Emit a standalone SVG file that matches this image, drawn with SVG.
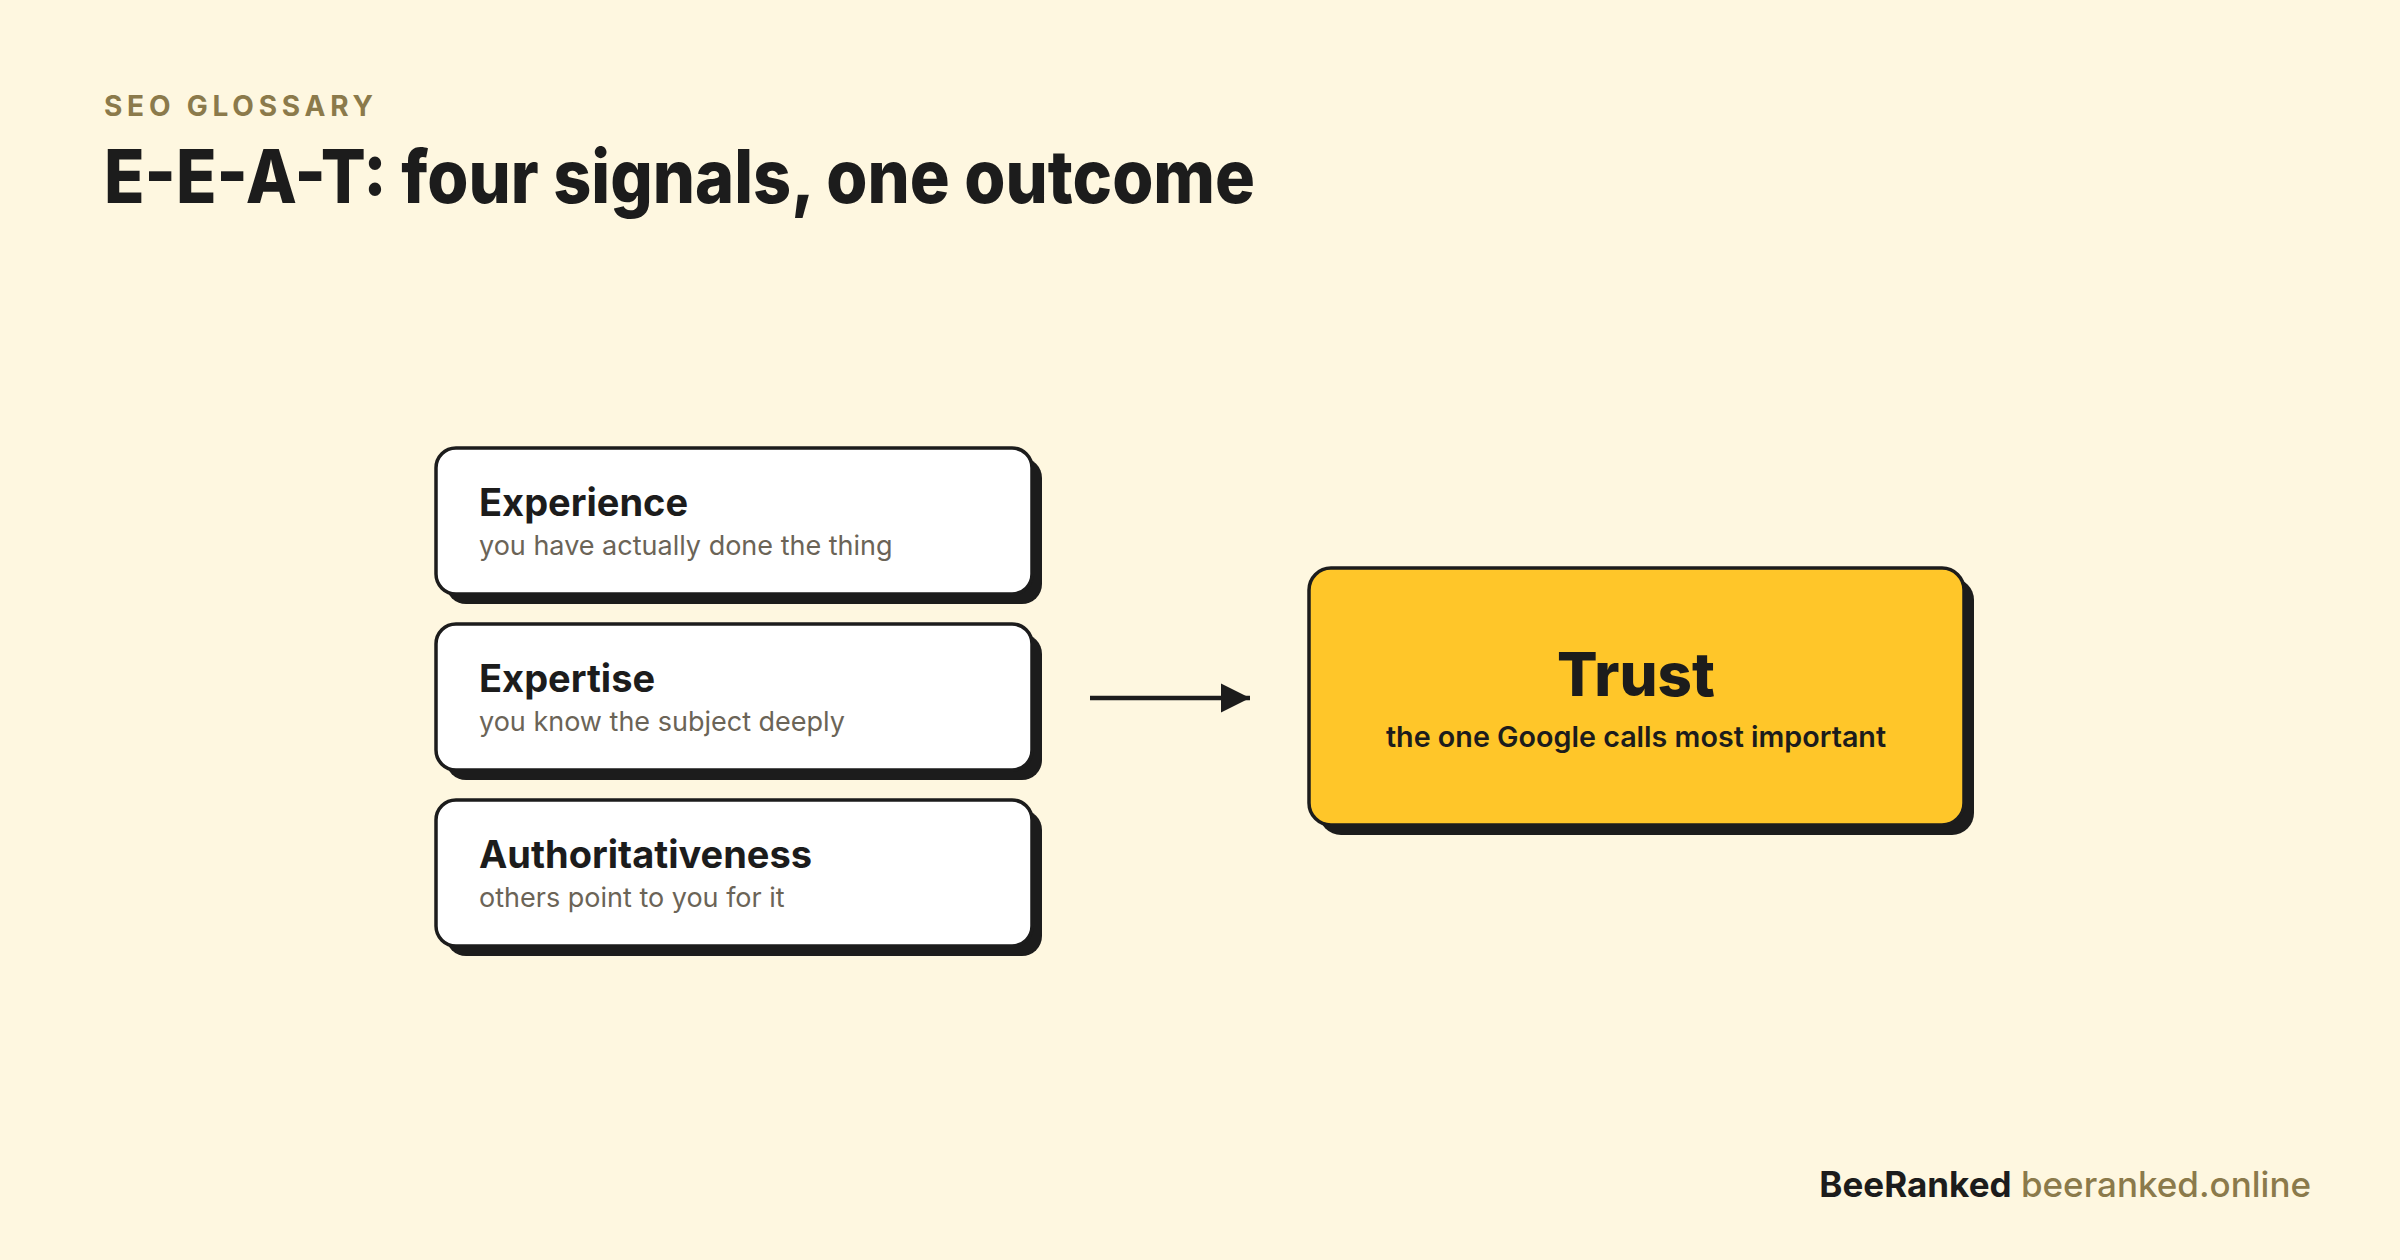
<svg xmlns="http://www.w3.org/2000/svg" width="2400" height="1260" viewBox="0 0 2400 1260">
<defs>
<marker id="ah" viewBox="0 0 10 10" refX="10" refY="5" markerWidth="6.5" markerHeight="6.5" markerUnits="strokeWidth" orient="auto">
<path d="M0,0 L10,5 L0,10 Z" fill="#1c1c1c"/>
</marker>
<style>
.bg{fill:#FEF7E0}
.shadow{fill:#1c1c1c}
.card{fill:#ffffff;stroke:#1c1c1c;stroke-width:3.5}
.trust{fill:#FFC629;stroke:#1c1c1c;stroke-width:3.5}
.kick{font-family:Inter,"Liberation Sans",sans-serif;font-weight:700;font-size:28px;letter-spacing:4px;fill:#8B7A4B}
.title{font-family:Inter,"Liberation Sans",sans-serif;font-weight:800;font-size:74px;fill:#1c1c1c}
.h{font-family:Inter,"Liberation Sans",sans-serif;font-weight:700;font-size:38px;fill:#1c1c1c}
.s{font-family:Inter,"Liberation Sans",sans-serif;font-weight:400;font-size:27px;fill:#6b6457}
.th{font-family:Inter,"Liberation Sans",sans-serif;font-weight:800;font-size:60px;fill:#1c1c1c}
.ts{font-family:Inter,"Liberation Sans",sans-serif;font-weight:600;font-size:28.7px;fill:#1c1c1c}
.f1{font-family:Inter,"Liberation Sans",sans-serif;font-weight:700;font-size:35px;fill:#1c1c1c}
.f2{font-family:Inter,"Liberation Sans",sans-serif;font-weight:500;font-size:35px;fill:#8B7A4B}
.conn{stroke:#1c1c1c;stroke-width:4.5;fill:none}
</style>
</defs>
<rect class="bg" x="0" y="0" width="2400" height="1260"/>
<text class="kick" x="104" y="116" textLength="273">SEO GLOSSARY</text>
<text class="title" x="104" y="203" textLength="1151" lengthAdjust="spacingAndGlyphs">E-E-A-T: four signals, one outcome</text>

<g id="experience">
<rect class="shadow" x="446" y="458" width="596" height="146" rx="20"/>
<rect class="card" x="436" y="448" width="596" height="146" rx="20"/>
<text class="h" x="479" y="516">Experience</text>
<text class="s" x="479" y="555">you have actually done the thing</text>
</g>
<g id="expertise">
<rect class="shadow" x="446" y="634" width="596" height="146" rx="20"/>
<rect class="card" x="436" y="624" width="596" height="146" rx="20"/>
<text class="h" x="479" y="692">Expertise</text>
<text class="s" x="479" y="731">you know the subject deeply</text>
</g>
<g id="authoritativeness">
<rect class="shadow" x="446" y="810" width="596" height="146" rx="20"/>
<rect class="card" x="436" y="800" width="596" height="146" rx="20"/>
<text class="h" x="479" y="868">Authoritativeness</text>
<text class="s" x="479" y="907">others point to you for it</text>
</g>
<g id="trust">
<rect class="shadow" x="1319" y="578" width="655" height="257" rx="22"/>
<rect class="trust" x="1309" y="568" width="655" height="257" rx="22"/>
<text class="th" x="1636" y="696" text-anchor="middle">Trust</text>
<text class="ts" x="1636" y="747" text-anchor="middle">the one Google calls most important</text>
</g>
<g id="connectors">
<line class="conn" x1="1090" y1="698" x2="1250" y2="698" marker-end="url(#ah)"/>
</g>
<g id="footer">
<text x="2311" y="1197" text-anchor="end"><tspan class="f1">BeeRanked</tspan><tspan class="f2"> beeranked.online</tspan></text>
</g>
</svg>
